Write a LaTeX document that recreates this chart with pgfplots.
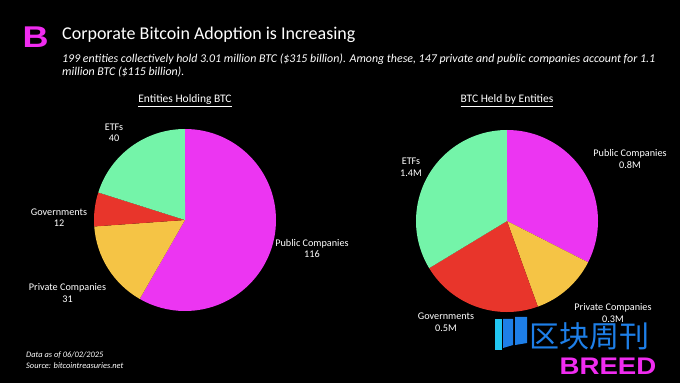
\documentclass[border=0pt]{standalone}
\usepackage{pgfplots}
\pgfplotsset{compat=1.18}
\usepackage{pgfplotstable}
\usepackage{fontspec}
\setmainfont{Carlito}
\newfontfamily\cjk{Noto Sans CJK SC}
\newfontfamily\logofont{Liberation Sans}
\definecolor{pub}{HTML}{EC35F2}
\definecolor{pri}{HTML}{F5C445}
\definecolor{gov}{HTML}{E8352B}
\definecolor{etf}{HTML}{74F4A9}
\definecolor{wm}{HTML}{1E7FE8}
\definecolor{wmc}{HTML}{22C6F2}
\definecolor{breed}{HTML}{F02CF0}

% Entities holding BTC (count)
\pgfplotstableread{
label value
Public 116
Private 31
Governments 12
ETFs 40
}\entities
% BTC held by entities (slice sizes as drawn)
\pgfplotstableread{
label value
Public 0.975
Private 0.36
Governments 0.655
ETFs 1.01
}\btcheld

\newcommand\getv[3]{\pgfplotstablegetelem{#2}{value}\of#1\edef#3{\pgfplotsretval}}

\begin{document}
\begin{tikzpicture}
\fill[black] (0,0) rectangle (680pt,383pt);
\useasboundingbox (0,0) rectangle (680pt,383pt);
% angles, left pie
\getv\entities{0}\vEa \getv\entities{1}\vEb \getv\entities{2}\vEc \getv\entities{3}\vEd
\pgfmathsetmacro\tE{\vEa+\vEb+\vEc+\vEd}
\pgfmathsetmacro\aEa{90}
\pgfmathsetmacro\aEb{\aEa-360*(\vEa/\tE)}
\pgfmathsetmacro\aEc{\aEb-360*(\vEb/\tE)}
\pgfmathsetmacro\aEd{\aEc-360*(\vEc/\tE)}
\pgfmathsetmacro\aEe{\aEd-360*(\vEd/\tE)}
% angles, right pie
\getv\btcheld{0}\vBa \getv\btcheld{1}\vBb \getv\btcheld{2}\vBc \getv\btcheld{3}\vBd
\pgfmathsetmacro\tB{\vBa+\vBb+\vBc+\vBd}
\pgfmathsetmacro\aBa{90}
\pgfmathsetmacro\aBb{\aBa-360*(\vBa/\tB)}
\pgfmathsetmacro\aBc{\aBb-360*(\vBb/\tB)}
\pgfmathsetmacro\aBd{\aBc-360*(\vBc/\tB)}
\pgfmathsetmacro\aBe{\aBd-360*(\vBd/\tB)}

\begin{axis}[at={(0pt,0pt)}, anchor=south west, scale only axis, hide axis,
  x=1pt, y=1pt, xmin=0, xmax=680, ymin=0, ymax=383, clip=false]
% left pie
\fill[pub] (axis cs:185,163) -- ++(\aEa:91pt) arc[start angle=\aEa, end angle=\aEb, radius=91pt] -- cycle;
\fill[pri] (axis cs:185,163) -- ++(\aEb:91pt) arc[start angle=\aEb, end angle=\aEc, radius=91pt] -- cycle;
\fill[gov] (axis cs:185,163) -- ++(\aEc:91pt) arc[start angle=\aEc, end angle=\aEd, radius=91pt] -- cycle;
\fill[etf] (axis cs:185,163) -- ++(\aEd:91pt) arc[start angle=\aEd, end angle=\aEe, radius=91pt] -- cycle;
% right pie
\fill[pub] (axis cs:507,162) -- ++(\aBa:91pt) arc[start angle=\aBa, end angle=\aBb, radius=91pt] -- cycle;
\fill[pri] (axis cs:507,162) -- ++(\aBb:91pt) arc[start angle=\aBb, end angle=\aBc, radius=91pt] -- cycle;
\fill[gov] (axis cs:507,162) -- ++(\aBc:91pt) arc[start angle=\aBc, end angle=\aBd, radius=91pt] -- cycle;
\fill[etf] (axis cs:507,162) -- ++(\aBd:91pt) arc[start angle=\aBd, end angle=\aBe, radius=91pt] -- cycle;
\end{axis}

% title block
\node[text=breed, font=\logofont\bfseries\fontsize{30}{30}\selectfont, anchor=base, inner sep=0pt, xscale=1.2] at (35.5pt,335pt) {B};
\node[text=white, font=\fontsize{18}{20}\selectfont, anchor=base west, inner sep=0pt] at (62pt,343pt) {Corporate Bitcoin Adoption is Increasing};
\node[text=white, font=\itshape\fontsize{11.9}{12}\selectfont, anchor=base west, inner sep=0pt] at (62pt,320pt) {199 entities collectively hold 3.01 million BTC (\$315 billion). Among these, 147 private and public companies account for 1.1};
\node[text=white, font=\itshape\fontsize{11.9}{12}\selectfont, anchor=base west, inner sep=0pt] at (62pt,307pt) {million BTC (\$115 billion).};

% pie titles
\node[text=white, font=\fontsize{11.5}{12}\selectfont, anchor=base, inner sep=0pt] at (185pt,280pt) {\underline{Entities Holding BTC}};
\node[text=white, font=\fontsize{11.5}{12}\selectfont, anchor=base, inner sep=0pt] at (507pt,280pt) {\underline{BTC Held by Entities}};

% labels
\tikzset{lab/.style={text=white, font=\fontsize{10.2}{11.5}\selectfont, align=center, inner sep=0pt}}
\node[lab] at (114pt,250pt) {ETFs\\40};
\node[lab] at (59pt,165.5pt) {Governments\\12};
\node[lab] at (67.5pt,90pt) {Private Companies\\31};
\node[lab] at (312pt,134.5pt) {Public Companies\\116};
\node[lab] at (411pt,215.5pt) {ETFs\\1.4M};
\node[lab] at (630pt,224pt) {Public Companies\\0.8M};
\node[lab] at (613pt,70pt) {Private Companies\\0.3M};
\node[lab] at (446pt,61pt) {Governments\\0.5M};

% footnote
\node[text=white, font=\itshape\fontsize{8.4}{11}\selectfont, anchor=base west, inner sep=0pt] at (26pt,26pt) {Data as of 06/02/2025};
\node[text=white, font=\itshape\fontsize{8.4}{11}\selectfont, anchor=base west, inner sep=0pt] at (26pt,15pt) {Source: bitcointreasuries.net};

% watermark
\fill[wmc] (495pt,64pt) -- (502pt,64pt) -- (502pt,33pt) -- (495pt,33pt) -- cycle;
\fill[wm] (503pt,64pt) -- (513pt,64pt) -- (513pt,38pt) -- (503pt,35pt) -- cycle;
\fill[wm] (515pt,66pt) -- (527pt,66pt) -- (527pt,40pt) -- (515pt,38pt) -- cycle;
\node[text=wm, font=\cjk\fontsize{30}{30}\selectfont, anchor=west, inner sep=0pt] at (529pt,47pt) {区块周刊};
\node[text=breed, font=\logofont\bfseries\fontsize{24}{24}\selectfont, anchor=base, inner sep=0pt, xscale=1.15] at (608pt,9pt) {BREED};
\end{tikzpicture}
\end{document}
